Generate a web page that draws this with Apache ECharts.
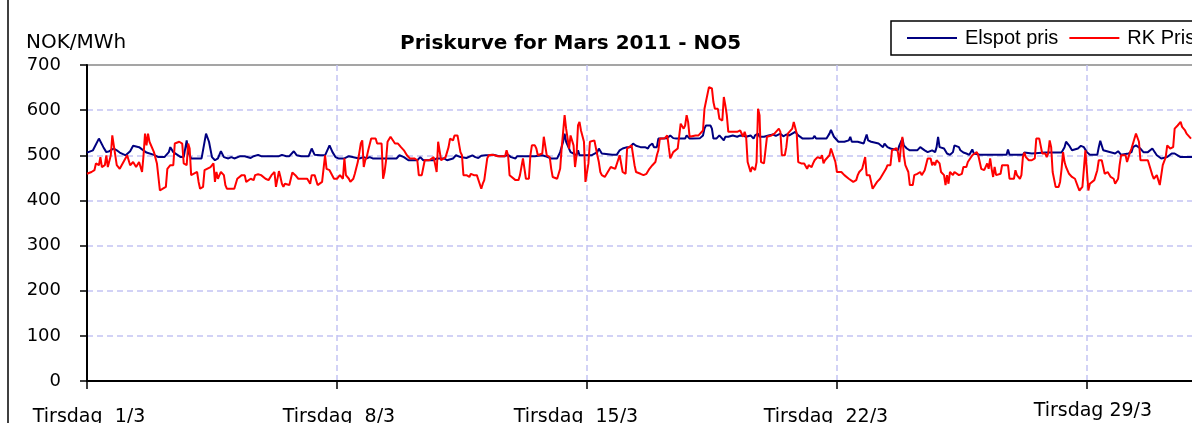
<!DOCTYPE html>
<html>
<head>
<meta charset="utf-8">
<script src="https://cdn.jsdelivr.net/npm/echarts@6/dist/echarts.min.js"></script>
<style>
  html, body { margin: 0; padding: 0; background: #fff; }
  #chart { width: 1192px; height: 423px; }
</style>
</head>
<body>
<div id="chart"></div>
<script>
// timetall fra 1. mars 00:00 (0..744)
var xTickHours = [0, 168, 336, 504, 672];
var xTickLabels = ['Tirsdag  1/3', 'Tirsdag  8/3', 'Tirsdag  15/3', 'Tirsdag  22/3', 'Tirsdag 29/3'];
var xTickStyle = ['a', 'a', 'c', 'c', 'd'];

var elspotHour = [0,4,8,11,13,15,18,20,22,26,29,31,35,37,40,45,48,52,55,56,58,63,65,67,68,70,77,80,82,84,
  86,88,90,92,95,97,99,103,106,110,112,115,117,129,131,134,136,139,141,144,149,151,153,157,160,163,165,167,169,173,176,
  183,186,188,190,192,208,210,213,216,222,224,226,233,235,240,242,246,248,251,255,259,261,263,265,
  268,271,273,277,281,283,285,288,289,292,301,306,308,312,316,318,320,321,322,325,327,329,330,331,334,339,343,344,346,347,353,356,
  358,360,363,365,367,369,372,375,377,378,380,381,383,384,386,390,392,393,394,396,402,403,404,405,407,412,414,415,416,419,420,421,422,423,425,428,429,431,434,437,439,441,443,446,448,
  449,450,451,452,455,456,458,461,463,466,468,470,472,474,476,478,481,485,488,489,490,494,497,499,500,502,503,505,509,512,513,514,518,522,523,524,525,527,532,535,536,538,
  540,545,546,548,549,551,553,558,560,561,563,565,568,570,571,572,573,576,578,580,582,583,586,587,589,591,593,595,596,600,618,619,620,629,
  630,635,644,655,657,658,660,662,666,668,670,672,674,679,680,681,683,684,691,693,695,700,702,703,705,708,710,713,716,717,719,722,726,729,731,733,735,743];
var elspotPrice = [506,511,537,518,507,509,515,511,506,500,509,521,518,513,506,501,496,496,507,518,507,496,496,533,507,493,493,548,530,496,
  489,493,509,496,493,496,493,498,498,494,498,501,498,498,501,498,498,509,500,498,498,515,501,500,500,522,507,496,493,493,498,
  493,496,493,496,493,493,500,496,489,489,496,489,489,493,493,489,493,500,496,494,500,496,494,499,
  500,500,501,498,498,501,496,493,498,498,498,500,498,493,493,507,530,548,530,507,504,500,511,500,500,500,507,515,504,501,501,501,
  511,515,518,518,526,521,518,518,515,521,526,518,518,537,537,538,544,548,538,537,537,544,548,537,537,538,544,559,566,566,559,537,533,537,544,533,541,541,544,541,544,543,541,544,537,
  544,546,548,541,541,538,544,546,543,548,542,546,544,548,552,544,537,537,538,543,537,537,537,548,556,541,537,530,530,533,541,530,530,526,530,546,533,530,526,518,526,518,
  515,511,522,537,522,515,511,511,518,515,511,507,511,507,518,541,518,515,504,501,507,522,518,511,506,504,501,513,504,501,501,513,501,501,
  506,504,506,506,518,530,522,511,515,521,518,507,501,501,518,532,511,507,504,509,501,504,507,518,522,515,507,507,515,511,500,493,496,504,504,500,496,496];

var rkHour = [0,3,5,6,8,9,10,12,13,14,16,17,18,20,22,23,27,28,29,31,33,35,37,38,39,40,41,42,45,47,49,51,53,54,56,58,59,62,64,65,67,68,69,70,71,74,75,76,78,79,83,85,
  86,87,88,89,90,92,93,94,97,99,101,102,104,106,107,108,110,111,112,113,115,117,120,122,123,124,126,127,129,130,131,132,133,134,136,138,140,142,145,148,150,151,153,155,158,160,161,163,166,168,170,172,173,174,176,
  177,179,180,181,182,184,185,186,187,188,189,190,191,194,195,198,199,200,201,202,204,205,207,209,211,213,215,217,220,222,223,225,227,230,233,234,235,236,237,238,241,243,244,246,247,249,251,252,253,255,257,258,260,262,263,265,266,
  267,269,270,272,274,276,281,282,283,284,285,288,290,291,292,293,294,295,297,298,299,301,302,303,306,307,308,309,310,311,312,313,316,317,318,319,320,321,322,324,325,326,327,328,329,330,331,332,334,335,336,337,338,339,341,343,344,345,346,348,350,352,355,356,
  358,359,360,362,363,364,366,367,368,369,372,374,376,377,378,380,381,382,383,384,385,388,390,391,392,393,394,395,397,399,401,402,403,404,405,406,409,410,411,412,414,415,416,418,420,421,422,424,425,427,428,429,430,431,432,434,437,439,440,441,442,443,444,446,447,
  449,450,451,452,453,455,456,457,458,460,462,465,466,467,469,470,471,472,474,475,476,477,478,480,482,484,485,486,487,488,489,490,491,493,494,495,496,497,499,500,503,504,505,507,509,512,513,515,516,517,518,519,521,522,523,524,526,527,528,529,531,532,533,535,537,538,
  540,541,542,544,545,546,547,548,549,550,551,552,553,555,556,558,560,561,562,563,564,565,567,568,569,570,571,572,573,574,576,577,578,579,580,581,582,583,584,586,587,588,589,591,592,593,595,596,598,599,600,601,603,605,606,607,608,609,610,611,612,614,615,617,618,619,620,621,623,624,625,626,627,628,629,
  630,631,633,635,637,638,640,642,643,644,645,646,647,648,649,651,652,653,654,655,656,657,658,660,662,664,666,667,669,670,671,672,673,674,675,677,679,680,682,683,684,685,686,688,689,690,691,692,693,694,695,696,698,699,700,701,702,703,704,705,707,708,711,713,714,716,717,719,721,722,723,725,726,727,728,729,730,731,733,735,736,738,739,740,742];
var rkPrice = [459,463,467,482,478,496,474,478,500,474,500,544,522,478,470,470,500,496,478,485,474,485,463,500,548,522,548,530,507,482,422,426,430,470,478,478,526,530,526,482,478,526,515,456,456,463,441,426,430,467,474,482,
  441,463,448,456,463,456,434,426,426,426,448,452,456,456,441,437,448,448,445,456,458,456,448,445,441,456,463,430,465,452,437,430,437,437,434,462,456,448,448,448,437,456,456,434,441,500,470,467,448,448,456,448,493,456,448,
  441,448,459,463,485,526,533,474,489,496,511,507,537,537,526,526,448,463,489,530,541,537,526,526,518,511,500,493,493,489,456,456,489,489,496,500,463,530,533,489,496,518,537,533,544,544,507,500,456,456,452,459,456,456,452,426,437,
  445,493,500,501,500,498,498,511,500,456,452,445,445,456,459,493,496,448,448,500,522,522,515,500,504,541,541,500,496,496,470,452,448,452,470,515,552,589,559,515,544,548,522,474,500,566,574,555,530,441,437,482,530,533,533,500,485,463,456,452,463,474,470,474,
  500,500,463,459,515,518,522,526,478,463,459,456,459,463,470,478,482,485,500,511,537,537,544,518,493,489,507,511,515,570,559,566,589,574,541,537,544,541,544,541,555,603,603,651,648,618,603,603,581,577,629,611,589,552,548,552,552,555,555,541,552,541,485,463,474,
  467,485,603,589,485,482,478,541,544,544,548,559,552,500,500,518,548,544,559,574,577,548,485,482,482,470,478,474,474,482,489,489,496,493,500,482,489,493,500,515,485,463,459,463,456,448,452,441,441,445,456,463,470,474,496,456,456,456,426,422,441,441,448,459,470,478,
  478,511,515,516,507,485,518,541,500,478,474,463,434,434,456,459,463,456,457,467,470,493,493,478,485,478,489,485,482,463,456,434,456,437,463,459,456,463,463,456,456,459,474,474,485,482,500,504,507,500,504,470,467,482,470,493,470,452,474,456,452,459,478,478,482,478,448,445,448,467,456,452,448,456,496,
  506,496,489,489,493,537,537,504,501,504,496,504,533,518,463,430,426,430,441,470,507,485,474,459,452,448,430,422,430,470,511,515,422,437,441,445,467,489,489,485,459,463,463,452,456,448,437,437,448,478,500,504,500,485,496,507,515,518,537,548,530,489,489,489,478,456,448,456,434,437,478,496,522,522,515,518,518,559,566,574,563,555,548,544,537];

var yMin = 0, yMax = 700, yStep = 100;

function pairs(h, v) {
  return h.map(function (x, i) { return [x, v[i]]; });
}

var labelFont = { fontFamily: 'DejaVu Sans', fontSize: 19, color: '#000' };

var chart = echarts.init(document.getElementById('chart'));
chart.setOption({
  animation: false,
  backgroundColor: '#fff',
  title: [{
    text: 'Priskurve for Mars 2011 - NO5',
    left: 395,
    top: 29,
    textStyle: { fontFamily: 'DejaVu Sans', fontWeight: 'bold', fontSize: 20, color: '#000' }
  }, {
    text: 'NOK/MWh',
    left: 21,
    top: 28,
    textStyle: { fontFamily: 'DejaVu Sans', fontWeight: 'normal', fontSize: 20, color: '#000' }
  }],
  legend: {
    left: 891,
    top: 21,
    width: 330,
    padding: [7, 10, 7, 16],
    borderColor: '#000',
    borderWidth: 1.5,
    itemWidth: 50,
    itemHeight: 2,
    itemGap: 11,
    icon: 'rect',
    textStyle: { fontFamily: 'Liberation Sans', fontSize: 20, color: '#000', padding: [0, 0, 0, 3] },
    data: ['Elspot pris', 'RK Pris']
  },
  graphic: [{
    type: 'line',
    shape: { x1: 8, y1: 0, x2: 8, y2: 423 },
    style: { stroke: '#000', lineWidth: 1.5 }
  }],
  grid: {
    left: 87, top: 65, right: -2, bottom: 42,
    outerBoundsMode: 'none',
    containLabel: false,
    show: true, borderColor: '#888', borderWidth: 1.5
  },
  xAxis: {
    type: 'value',
    min: 0, max: 744, interval: 168,
    axisLine: { lineStyle: { color: '#000', width: 2 } },
    axisTick: { show: true, length: 8, inside: false, lineStyle: { color: '#000', width: 1.5 } },
    axisLabel: {
      margin: 21,
      showMaxLabel: false,
      formatter: function (v) {
        var i = xTickHours.indexOf(v);
        return i >= 0 ? '{' + xTickStyle[i] + '|' + xTickLabels[i] + '}' : '';
      },
      rich: {
        a: Object.assign({ padding: [6, 0, 0, 4] }, labelFont),
        c: Object.assign({ padding: [6, 22, 0, 0] }, labelFont),
        d: Object.assign({ padding: [0, 0, 0, 12] }, labelFont)
      }
    },
    splitLine: { show: true, lineStyle: { color: '#c4c4f4', type: [6, 4], width: 1.5 } }
  },
  yAxis: {
    type: 'value',
    min: yMin, max: yMax, interval: yStep,
    axisLine: { show: true, lineStyle: { color: '#000', width: 2 } },
    axisTick: { show: true, length: 7, inside: false, lineStyle: { color: '#000', width: 1.5 } },
    axisLabel: { margin: 26, fontFamily: 'DejaVu Sans', fontSize: 18, color: '#000' },
    splitLine: { show: true, showMaxLine: false, lineStyle: { color: '#c4c4f4', type: [6, 4], width: 1.5 } }
  },
  series: [{
    name: 'Elspot pris',
    type: 'line',
    data: pairs(elspotHour, elspotPrice),
    showSymbol: false,
    symbol: 'none',
    color: '#000080',
    lineStyle: { color: '#000080', width: 2 },
    z: 2
  }, {
    name: 'RK Pris',
    type: 'line',
    data: pairs(rkHour, rkPrice),
    showSymbol: false,
    symbol: 'none',
    color: '#ff0000',
    lineStyle: { color: '#ff0000', width: 2 },
    z: 3
  }]
});
</script>
</body>
</html>
